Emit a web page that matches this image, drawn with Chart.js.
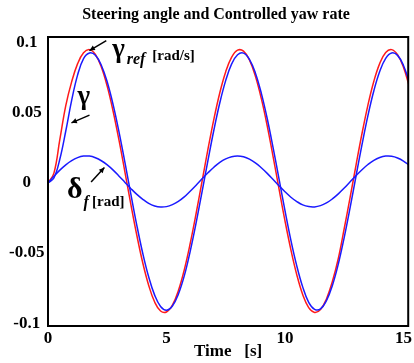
<!DOCTYPE html>
<html>
<head>
<meta charset="utf-8">
<script src="https://cdn.jsdelivr.net/npm/chart.js@4.4.0/dist/chart.umd.min.js"></script>
<style>
html, body { margin: 0; padding: 0; background: #fff; }
</style>
</head>
<body>
<canvas id="chart" width="414" height="363"></canvas>
<script>
// values, every 0.25 s
var timeSec = [0, 0.25, 0.5, 0.75, 1, 1.25, 1.5, 1.75, 2, 2.25, 2.5, 2.75, 3, 3.25, 3.5, 3.75,
    4, 4.25, 4.5, 4.75, 5, 5.25, 5.5, 5.75, 6, 6.25, 6.5, 6.75, 7, 7.25, 7.5, 7.75,
    8, 8.25, 8.5, 8.75, 9, 9.25, 9.5, 9.75, 10, 10.25, 10.5, 10.75, 11, 11.25, 11.5, 11.75,
    12, 12.25, 12.5, 12.75, 13, 13.25, 13.5, 13.75, 14, 14.25, 14.5, 14.75, 15, 15.25];

var gammaRef = [0, 0.007, 0.031, 0.0551, 0.0722, 0.085, 0.0927, 0.095, 0.0915, 0.0826, 0.0688, 0.0509, 0.0301, 0.0074, -0.0156, -0.0375,
    -0.0571, -0.0731, -0.0849, -0.0913, -0.092, -0.0872, -0.0769, -0.062, -0.0432, -0.0218, 0.0011, 0.024, 0.0455, 0.0643, 0.0793, 0.0896,
    0.0946, 0.0939, 0.0876, 0.0761, 0.0602, 0.0407, 0.0186, -0.0044, -0.027, -0.0477, -0.0656, -0.0797, -0.0889, -0.0923, -0.0902, -0.0827,
    -0.0703, -0.0539, -0.0325, -0.0102, 0.0129, 0.0352, 0.0555, 0.0725, 0.0852, 0.0929, 0.095, 0.0914, 0.0824, 0.0685];

var gamma = [0, 0.0035, 0.017, 0.037, 0.059, 0.077, 0.0886, 0.0926, 0.091, 0.0839, 0.0719, 0.0556, 0.036, 0.0142, -0.0084, -0.0304,
    -0.0503, -0.0671, -0.08, -0.0881, -0.0907, -0.0877, -0.0794, -0.0663, -0.0488, -0.0285, -0.0064, 0.0161, 0.0377, 0.0571, 0.0731, 0.0848,
    0.0913, 0.0925, 0.0881, 0.0784, 0.064, 0.0459, 0.025, 0.0027, -0.0197, -0.0409, -0.0593, -0.0743, -0.0851, -0.0901, -0.0898, -0.0839,
    -0.0731, -0.0578, -0.0388, -0.0174, 0.0051, 0.0273, 0.048, 0.0657, 0.0796, 0.0888, 0.0926, 0.0909, 0.0837, 0.0717];

var deltaF = [0, 0.0047, 0.0091, 0.0129, 0.0159, 0.018, 0.0191, 0.0191, 0.0179, 0.0158, 0.0128, 0.0091, 0.0048, 0.0003, -0.0041, -0.0082,
    -0.0117, -0.0146, -0.0164, -0.0172, -0.0169, -0.0155, -0.0132, -0.01, -0.0059, -0.0016, 0.0029, 0.0072, 0.0112, 0.0146, 0.0171, 0.0187,
    0.0192, 0.0186, 0.0169, 0.0143, 0.0108, 0.0068, 0.0024, -0.0021, -0.0063, -0.0102, -0.0133, -0.0157, -0.0169, -0.0171, -0.0162, -0.0143,
    -0.0114, -0.0078, -0.0037, 0.0008, 0.0052, 0.0094, 0.0131, 0.0161, 0.0181, 0.0191, 0.019, 0.0178, 0.0156, 0.0125];

var xTicks = [0, 5, 10, 15];
var yTicks = [-0.1, -0.05, 0, 0.05, 0.1];
var chartTitle = 'Steering angle and Controlled yaw rate';
var xTitle = 'Time   [s]';

var serif = "'Liberation Serif', 'Times New Roman', serif";

function points(values) {
    return timeSec.map(function (t, i) { return { x: t, y: values[i] }; });
}

// title, frame, curve labels and arrows
var decorations = {
    id: 'decorations',
    afterDraw: function (chart) {
        var ctx = chart.ctx;
        var a = chart.chartArea;
        var sx = chart.scales.x, sy = chart.scales.y;
        function px(t) { return sx.getPixelForValue(t); }
        function py(v) { return sy.getPixelForValue(v); }

        ctx.save();
        ctx.fillStyle = '#000';
        ctx.textBaseline = 'middle';
        ctx.textAlign = 'center';
        ctx.font = 'bold 16px ' + serif;
        ctx.fillText(chartTitle, 216, 15);

        ctx.strokeStyle = '#000';
        ctx.lineWidth = 2;
        ctx.strokeRect(a.left, a.top, a.right - a.left, a.bottom - a.top);

        function arrow(t1, v1, t2, v2) {
            var x1 = px(t1), y1 = py(v1), x2 = px(t2), y2 = py(v2);
            var ang = Math.atan2(y2 - y1, x2 - x1);
            ctx.lineWidth = 1.5;
            ctx.beginPath();
            ctx.moveTo(x1, y1);
            ctx.lineTo(x2, y2);
            ctx.stroke();
            ctx.beginPath();
            ctx.moveTo(x2, y2);
            ctx.lineTo(x2 - 6 * Math.cos(ang - 0.45), y2 - 6 * Math.sin(ang - 0.45));
            ctx.lineTo(x2 - 6 * Math.cos(ang + 0.45), y2 - 6 * Math.sin(ang + 0.45));
            ctx.closePath();
            ctx.fill();
        }

        function label(text, t, v, font) {
            ctx.font = font;
            ctx.fillText(text, px(t), py(v));
        }

        ctx.textAlign = 'left';
        ctx.textBaseline = 'alphabetic';
        label('\u03b3', 2.71, 0.0898, 'bold 27px ' + serif);
        label('ref', 3.32, 0.0848, 'bold italic 16px ' + serif);
        label('[rad/s]', 4.4, 0.0876, 'bold 15px ' + serif);
        label('\u03b3', 1.25, 0.0561, 'bold 27px ' + serif);
        label('\u03b4', 0.8, -0.0111, 'bold 30px ' + serif);
        label('f', 1.5, -0.0175, 'bold italic 16px ' + serif);
        label('[rad]', 1.86, -0.0168, 'bold 15px ' + serif);

        arrow(2.46, 0.1014, 1.75, 0.0943);
        arrow(1.75, 0.0483, 0.99, 0.0428);
        arrow(1.82, 0.0006, 2.38, 0.0109);
        ctx.restore();
    }
};

var tickFont = { family: serif, size: 17, weight: 'bold' };

new Chart(document.getElementById('chart'), {
    type: 'line',
    data: {
        datasets: [{
            label: 'gamma_ref',
            data: points(gammaRef),
            borderColor: '#ff1a1a',
            borderWidth: 1.5,
            pointRadius: 0,
            tension: 0.4,
            order: 2
        }, {
            label: 'gamma',
            data: points(gamma),
            borderColor: '#1a1aff',
            borderWidth: 1.5,
            pointRadius: 0,
            tension: 0.4,
            order: 1
        }, {
            label: 'delta_f',
            data: points(deltaF),
            borderColor: '#1a1aff',
            borderWidth: 1.5,
            pointRadius: 0,
            tension: 0.4,
            order: 0
        }]
    },
    options: {
        responsive: false,
        animation: false,
        devicePixelRatio: 1,
        layout: { padding: { top: 37, right: 2, left: 0, bottom: 0 } },
        plugins: {
            legend: { display: false },
            tooltip: { enabled: false }
        },
        scales: {
            x: {
                type: 'linear',
                min: 0,
                max: 15.2,
                afterBuildTicks: function (s) { s.ticks = xTicks.map(function (v) { return { value: v }; }); },
                afterFit: function (s) { s.height = 37; },
                grid: { display: false, drawTicks: false },
                border: { display: false },
                ticks: { font: tickFont, color: '#000', padding: 2, maxRotation: 0, autoSkip: false },
                title: { display: true, text: xTitle, color: '#000', font: { family: serif, size: 17, weight: 'bold' }, padding: { top: 0, bottom: 1 } }
            },
            y: {
                min: -0.102,
                max: 0.104,
                afterBuildTicks: function (s) { s.ticks = yTicks.map(function (v) { return { value: v }; }); },
                afterFit: function (s) { s.width = 48; },
                grid: { display: false, drawTicks: false },
                border: { display: false },
                ticks: {
                    font: tickFont, color: '#000', padding: 3.5, crossAlign: 'center',
                    callback: function (v) { return String(v); }
                }
            }
        }
    },
    plugins: [decorations]
});
</script>
</body>
</html>
